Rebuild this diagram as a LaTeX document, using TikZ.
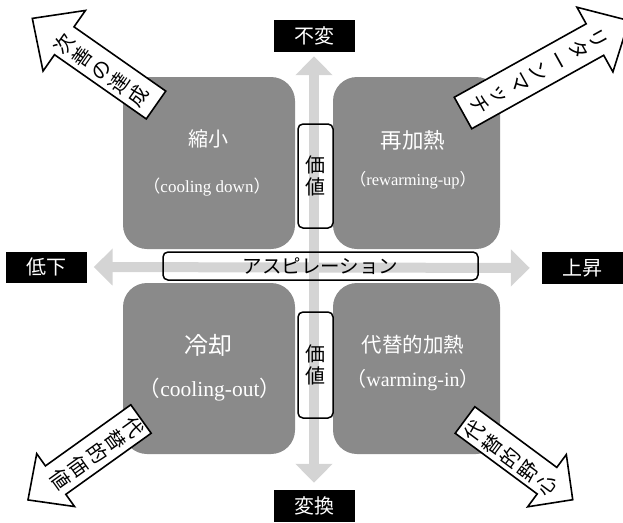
\documentclass[tikz,border=0pt]{standalone}
\usepackage{fontspec}
\setmainfont{Liberation Serif}
\newfontfamily\cjk{Noto Sans CJK JP}
\usetikzlibrary{arrows.meta}
\definecolor{quadgray}{RGB}{138,138,138}
\definecolor{axisgray}{RGB}{212,212,212}
\begin{document}
\begin{tikzpicture}[x=1pt,y=-1pt,
  quad/.style={fill=quadgray, rounded corners=24pt, inner sep=0pt},
  axis/.style={draw=axisgray, line width=10pt,
    {Triangle[width=36pt,length=19pt]}-{Triangle[width=36pt,length=19pt]}},
  endlabel/.style={fill=black, text=white, minimum width=81pt, minimum height=32pt,
    inner sep=0pt, font=\cjk\fontsize{20}{22}\selectfont},
  valbox/.style={draw=black, line width=1.5pt, rounded corners=5pt, minimum width=35pt,
    inner sep=0pt, align=center, font=\cjk\fontsize{20}{22}\selectfont},
  blockarrow/.style={draw=black, fill=white, line width=1.6pt, line join=miter},
  arrowtext/.style={align=center, inner sep=0pt, font=\cjk\fontsize{20}{22.5}\selectfont},
  qtitle/.style={text=white, inner sep=0pt},
  qsub/.style={text=white, inner sep=0pt}]
\clip (0,0) rectangle (623,522);
% quadrants
\node[quad, minimum width=172pt, minimum height=172pt] (tl) at (209,163) {};
\node[quad, minimum width=167pt, minimum height=172pt] (tr) at (416.5,163) {};
\node[quad, minimum width=172pt, minimum height=171pt] (bl) at (209,368.5) {};
\node[quad, minimum width=167pt, minimum height=171pt] (br) at (416.5,368.5) {};
% end labels
\node[endlabel] (top) at (314,36) {不変};
\node[endlabel] (bot) at (314,506) {変換};
\node[endlabel, minimum height=31pt] (left) at (46,267) {低下};
\node[endlabel] (right) at (582,268) {上昇};
% axes
\draw[axis, shorten <=4pt, shorten >=7pt] (top.south) -- (bot.north);
\draw[axis, shorten <=7pt, shorten >=11.5pt] (left.east) -- (right.west);
% value boxes
\node[valbox, minimum height=104pt] (v1) at (315.5,176) {価\\値};
\node[valbox, minimum height=106pt] (v2) at (315.5,365) {価\\値};
\node[valbox, minimum width=315pt, minimum height=28pt, font=\cjk\fontsize{19.5}{21}\selectfont] (asp) at (320.5,266) {アスピレーション};
% quadrant texts
\node[qtitle, font=\cjk\fontsize{20}{22}\selectfont] (tlj) at (208,139) {縮小};
\node[qsub, font=\fontsize{17}{19}\selectfont] (tle) at (207,187) {{\cjk （}cooling down{\cjk ）}};
\node[qtitle, font=\cjk\fontsize{21.5}{23}\selectfont] (trj) at (413,140) {再加熱};
\node[qsub, font=\fontsize{16.5}{18}\selectfont] (tre) at (413,180) {{\cjk （}rewarming-up{\cjk ）}};
\node[qtitle, font=\cjk\fontsize{24}{26}\selectfont] (blj) at (208,345) {冷却};
\node[qsub, font=\fontsize{21.5}{23}\selectfont] (ble) at (210,390) {{\cjk （}cooling-out{\cjk ）}};
\node[qtitle, font=\cjk\fontsize{20.5}{22}\selectfont] (brj) at (413,345) {代替的加熱};
\node[qsub, font=\fontsize{20}{22}\selectfont] (bre) at (413,380) {{\cjk （}warming-in{\cjk ）}};
% corner block arrows
\begin{scope}[shift={(156,105)}, rotate=145]
  \draw[blockarrow] (0,-17) -- (112,-17) -- (112,-37) -- (151,0) -- (112,37) -- (112,17) -- (0,17) -- cycle;
\end{scope}
\node[arrowtext, rotate=55] (tlt) at (101,70) {次\\善\\の\\達\\成};
\begin{scope}[shift={(463,113)}, rotate=29.1]
  \draw[blockarrow] (0,-18) -- (151,-18) -- (151,-37) -- (190,0) -- (151,37) -- (151,18) -- (0,18) -- cycle;
\end{scope}
\node[arrowtext, rotate=-60.9] (trt) at (539,72) {リ\\タ\\ー\\ン\\マ\\ッ\\チ};
\begin{scope}[shift={(141,419)}, rotate=215.6]
  \draw[blockarrow] (0,-17.5) -- (105,-17.5) -- (105,-32.5) -- (139,0) -- (105,32.5) -- (105,17.5) -- (0,17.5) -- cycle;
\end{scope}
\node[arrowtext, rotate=-54.4] (blt) at (97,453) {代\\替\\的\\価\\値};
\begin{scope}[shift={(465,420)}, rotate=-36.5]
  \draw[blockarrow] (0,-16.5) -- (102,-16.5) -- (102,-32.5) -- (134,0) -- (102,32.5) -- (102,16.5) -- (0,16.5) -- cycle;
\end{scope}
\node[arrowtext, rotate=53.5] (brt) at (510,458) {代\\替\\的\\野\\心};
\end{tikzpicture}
\end{document}
